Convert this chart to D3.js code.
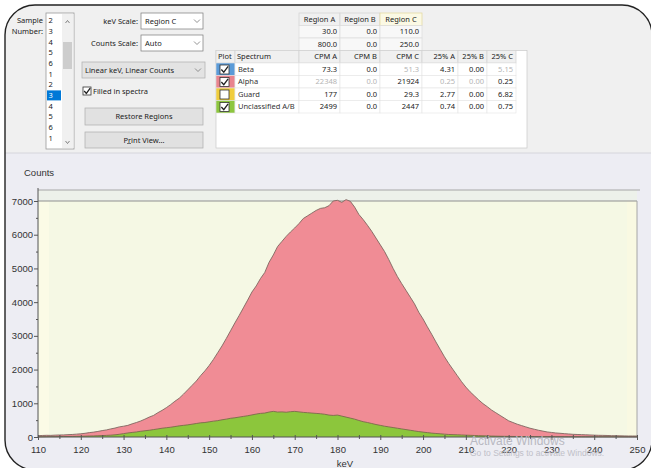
<!DOCTYPE html>
<html>
<head>
<meta charset="utf-8">
<script src="https://cdn.jsdelivr.net/npm/d3@7"></script>
<style>
  body { margin: 0; background: #fff; }
  svg { display: block; }
  .ui { font-family: "Noto Sans", "Open Sans", sans-serif; font-size: 7.5px; fill: #222; }
  .ax { font-family: "Liberation Sans", Arial, sans-serif; font-size: 9.5px; fill: #333; }
</style>
</head>
<body>
<svg id="chart" width="651" height="468"></svg>
<script>
// ---- data ----
const sampleItems = ['2', '3', '4', '5', '6', '1', '2', '3', '4', '5', '6', '1'];
const selectedSample = 7;

const regionNames = ['Region A', 'Region B', 'Region C'];
const regionLow = ['30.0', '0.0', '110.0'];
const regionHigh = ['800.0', '0.0', '250.0'];

const tableHeader = ['Plot', 'Spectrum', 'CPM A', 'CPM B', 'CPM C', '25% A', '25% B', '25% C'];
const spectra = ['Beta', 'Alpha', 'Guard', 'Unclassified A/B'];
const spectrumColors = ['#5b9bd8', '#e9848e', '#f0cd3c', '#8dc63f'];
const plotted = [true, true, false, true];
const tableValues = [
  ['73.3', '0.0', '51.3', '4.31', '0.00', '5.15'],
  ['22348', '0.0', '21924', '0.25', '0.00', '0.25'],
  ['177', '0.0', '29.3', '2.77', '0.00', '6.82'],
  ['2499', '0.0', '2447', '0.74', '0.00', '0.75']
];
const greyed = [
  [false, false, true, false, false, true],
  [true, true, false, true, true, false],
  [false, false, false, false, false, false],
  [false, false, false, false, false, false]
];

// spectrum channels, 1 keV wide, 110..250
const keV = d3.range(110, 251);
const alphaCounts = [
  40, 45, 50, 48, 55, 60, 62, 70, 75, 85,
  95, 110, 130, 145, 165, 190, 210, 240, 265, 300,
  320, 345, 390, 430, 475, 530, 590, 640, 720, 790,
  870, 960, 1060, 1150, 1270, 1400, 1530, 1660, 1820, 1960,
  2120, 2300, 2500, 2700, 2920, 3150, 3380, 3600, 3830, 4060,
  4300, 4480, 4700, 4880, 5180, 5400, 5650, 5800, 5950, 6080,
  6200, 6330, 6480, 6560, 6640, 6720, 6780, 6800, 6860, 7000,
  7020, 6960, 7040, 6990, 6820, 6600, 6450, 6280, 6100, 5900,
  5700, 5500, 5260, 5000, 4760, 4550, 4350, 4150, 3950, 3700,
  3500, 3270, 3050, 2820, 2600, 2380, 2180, 2000, 1820, 1640,
  1480, 1340, 1220, 1100, 990, 900, 800, 720, 640, 560,
  480, 430, 380, 340, 300, 260, 230, 200, 175, 150,
  135, 120, 110, 100, 90, 80, 75, 70, 65, 60,
  55, 50, 48, 45, 40, 38, 35, 33, 30, 30,
  28
];
const unclassCounts = [
  5, 5, 8, 10, 10, 12, 15, 15, 18, 20,
  22, 25, 30, 32, 38, 42, 48, 55, 65, 80,
  100, 120, 135, 150, 170, 185, 200, 220, 240, 260,
  275, 290, 310, 330, 345, 360, 380, 400, 420, 430,
  450, 470, 485, 510, 530, 555, 570, 590, 610, 630,
  655, 680, 700, 710, 740, 760, 740, 745, 735, 750,
  760, 745, 730, 720, 710, 700, 690, 675, 650, 640,
  650, 620, 590, 560, 530, 490, 455, 430, 400, 370,
  345, 320, 300, 280, 260, 240, 220, 200, 180, 160,
  145, 130, 115, 105, 95, 85, 75, 70, 65, 60,
  55, 50, 45, 40, 36, 32, 28, 25, 22, 20,
  18, 16, 15, 14, 13, 12, 11, 10, 10, 9,
  9, 8, 8, 7, 7, 6, 6, 6, 5, 5,
  5, 5, 5, 4, 4, 4, 4, 3, 3, 3,
  3
];
const xTicks = d3.range(110, 251, 10);
const yTicks = d3.range(0, 7001, 1000);

// ---- drawing ----
const svg = d3.select('#chart');

// rounded window frame
svg.append('clipPath').attr('id', 'frame')
  .append('rect').attr('x', 5).attr('y', 5).attr('width', 647).attr('height', 465).attr('rx', 30);
const win = svg.append('g').attr('clip-path', 'url(#frame)');
win.append('rect').attr('x', 0).attr('y', 0).attr('width', 651).attr('height', 153).attr('fill', '#f0f0f0');
win.append('rect').attr('x', 0).attr('y', 153).attr('width', 651).attr('height', 320).attr('fill', '#ededf3');
win.append('line').attr('x1', 0).attr('x2', 651).attr('y1', 153).attr('y2', 153).attr('stroke', '#d6d6dc');

function label (g, x, y, s, anchor, cls, color) {
  return g.append('text').attr('class', cls || 'ui').attr('x', x).attr('y', y)
    .attr('dy', '0.35em').attr('text-anchor', anchor || 'start')
    .style('fill', color || null).text(s);
}
function chevron (g, cx, cy) {
  g.append('path').attr('d', `M${cx - 3},${cy - 1.5}L${cx},${cy + 1.5}L${cx + 3},${cy - 1.5}`)
    .attr('fill', 'none').attr('stroke', '#777').attr('stroke-width', 0.8);
}
function check (g, x, y, s) {
  g.append('rect').attr('x', x).attr('y', y).attr('width', s).attr('height', s)
    .attr('fill', '#fff').attr('stroke', '#333').attr('stroke-width', 0.8);
}
function tick (g, x, y, s) {
  g.append('path').attr('d', `M${x + s * 0.15},${y + s * 0.5}L${x + s * 0.42},${y + s * 0.8}L${x + s * 0.9},${y + s * 0.15}`)
    .attr('fill', 'none').attr('stroke', '#222').attr('stroke-width', 1.3);
}

// sample number list box
const ui = win.append('g');
label(ui, 43, 20, 'Sample', 'end');
label(ui, 43, 31, 'Number:', 'end');
ui.append('rect').attr('x', 46).attr('y', 13).attr('width', 28).attr('height', 136)
  .attr('fill', '#fff').attr('stroke', '#9a9a9a').attr('stroke-width', 0.8);
ui.append('rect').attr('x', 62).attr('y', 14).attr('width', 11.5).attr('height', 134).attr('fill', '#f0f0f0');
ui.append('rect').attr('x', 63).attr('y', 42).attr('width', 9).attr('height', 27).attr('fill', '#cdcdcd');
ui.append('path').attr('d', 'M65.5,23L67.5,20.5L69.5,23').attr('fill', 'none').attr('stroke', '#666').attr('stroke-width', 0.8);
ui.append('path').attr('d', 'M65.5,141L67.5,143.5L69.5,141').attr('fill', 'none').attr('stroke', '#666').attr('stroke-width', 0.8);
sampleItems.forEach((s, i) => {
  const cy = 20.5 + i * 10.7;
  if (i === selectedSample) {
    ui.append('rect').attr('x', 47).attr('y', cy - 5).attr('width', 14).attr('height', 10).attr('fill', '#0078d7');
  }
  label(ui, 48.5, cy, s, 'start', 'ui', i === selectedSample ? '#fff' : '#222');
});

// scale dropdowns
label(ui, 138, 21, 'keV Scale:', 'end');
ui.append('rect').attr('x', 141).attr('y', 13).attr('width', 62).attr('height', 16).attr('fill', '#fff').attr('stroke', '#7a7a7a').attr('stroke-width', 0.7);
label(ui, 145, 21, 'Region C');
chevron(ui, 197, 21);
label(ui, 138, 43, 'Counts Scale:', 'end');
ui.append('rect').attr('x', 141).attr('y', 35).attr('width', 62).attr('height', 16).attr('fill', '#fff').attr('stroke', '#7a7a7a').attr('stroke-width', 0.7);
label(ui, 145, 43, 'Auto');
chevron(ui, 197, 43);

ui.append('rect').attr('x', 82).attr('y', 62).attr('width', 123).attr('height', 16).attr('fill', '#e3e3e3').attr('stroke', '#adadad').attr('stroke-width', 0.7);
label(ui, 85, 70, 'Linear keV, Linear Counts');
chevron(ui, 198, 70);

check(ui, 83, 87, 8);
tick(ui, 83, 87, 8);
label(ui, 93, 91, 'Filled in spectra');

ui.append('rect').attr('x', 85).attr('y', 108).attr('width', 118).attr('height', 17).attr('fill', '#e1e1e1').attr('stroke', '#adadad').attr('stroke-width', 0.7);
label(ui, 144, 116.5, 'Restore Regions', 'middle');
ui.append('rect').attr('x', 85).attr('y', 132).attr('width', 118).attr('height', 16).attr('fill', '#e1e1e1').attr('stroke', '#adadad').attr('stroke-width', 0.7);
label(ui, 144, 140, 'Print View...', 'middle');
ui.append('line').attr('x1', 127).attr('x2', 131).attr('y1', 143.5).attr('y2', 143.5).attr('stroke', '#222').attr('stroke-width', 0.6);

// region + spectrum tables
const colX = [216, 235, 299, 340, 380, 422, 458, 487, 516];
const rowH = 12.5;
const tb = win.append('g');
regionNames.forEach((r, i) => {
  const x0 = colX[i + 2];
  const w = colX[i + 3] - x0;
  const isC = i === 2;
  tb.append('rect').attr('x', x0).attr('y', 13).attr('width', w).attr('height', rowH)
    .attr('fill', isC ? '#fbf9e4' : '#f0f0f0').attr('stroke', isC ? '#e2d69a' : '#d2d2d2').attr('stroke-width', 0.7);
  label(tb, x0 + w / 2, 13 + rowH / 2, r, 'middle');
  [regionLow[i], regionHigh[i]].forEach((v, j) => {
    const y0 = 13 + rowH * (j + 1);
    tb.append('rect').attr('x', x0).attr('y', y0).attr('width', w).attr('height', rowH)
      .attr('fill', '#f8f8f8').attr('stroke', '#dcdcdc').attr('stroke-width', 0.7);
    label(tb, x0 + w - 3, y0 + rowH / 2, v, 'end');
  });
});

const tTop = 13 + rowH * 3;
tb.append('rect').attr('x', 216).attr('y', tTop).attr('width', 311).attr('height', 148 - tTop)
  .attr('fill', '#fff').attr('stroke', '#c9c9c9').attr('stroke-width', 0.7);
tableHeader.forEach((h, i) => {
  const x0 = colX[i];
  const w = colX[i + 1] - x0;
  tb.append('rect').attr('x', x0).attr('y', tTop).attr('width', w).attr('height', rowH)
    .attr('fill', '#f0f0f0').attr('stroke', '#d2d2d2').attr('stroke-width', 0.7);
  if (i < 2) label(tb, x0 + 2, tTop + rowH / 2, h);
  else label(tb, x0 + w - 3, tTop + rowH / 2, h, 'end');
});
spectra.forEach((s, r) => {
  const y0 = tTop + rowH * (r + 1);
  colX.slice(0, -1).forEach((x0, i) => {
    tb.append('rect').attr('x', x0).attr('y', y0).attr('width', colX[i + 1] - x0).attr('height', rowH)
      .attr('fill', i === 0 ? spectrumColors[r] : '#fff').attr('stroke', '#e4e4e4').attr('stroke-width', 0.6);
  });
  check(tb, 220, y0 + 2, 9);
  if (plotted[r]) tick(tb, 220, y0 + 2, 9);
  label(tb, 238, y0 + rowH / 2, s, 'start', 'ui', '#333');
  tableValues[r].forEach((v, i) => {
    label(tb, colX[i + 3] - 3, y0 + rowH / 2, v, 'end', 'ui', greyed[r][i] ? '#b4b4b4' : '#222');
  });
});

// ---- spectrum plot ----
const x = d3.scaleLinear().domain([110, 250]).range([38, 637]);
const y = d3.scaleLinear().domain([0, 7000]).range([437, 201]);
const plot = win.append('g');

plot.append('rect').attr('x', 38).attr('y', 190).attr('width', 599).attr('height', 11).attr('fill', '#edf1ea');
plot.append('rect').attr('x', 38).attr('y', 201).attr('width', 599).attr('height', 236).attr('fill', '#f5f8e4');
plot.append('rect').attr('x', 39).attr('y', 201).attr('width', 10).attr('height', 236).attr('fill', '#fbfbe6');
plot.append('rect').attr('x', 627).attr('y', 201).attr('width', 10).attr('height', 236).attr('fill', '#f9f9e2');
plot.append('line').attr('x1', 38).attr('x2', 640).attr('y1', 190).attr('y2', 190).attr('stroke', '#a6a6a6');
plot.append('line').attr('x1', 38).attr('x2', 637).attr('y1', 201).attr('y2', 201).attr('stroke', '#8f8f8f');
plot.append('line').attr('x1', 637).attr('x2', 637).attr('y1', 201).attr('y2', 437).attr('stroke', '#a6a6a6');

label(plot, 24, 173, 'Counts', 'start', 'ax');

const area = d3.area().x((d, i) => x(keV[i])).y0(y(0)).y1(d => y(d));
const line = d3.line().x((d, i) => x(keV[i])).y(d => y(d));
plot.append('path').datum(alphaCounts).attr('d', area).attr('fill', '#f08c95');
plot.append('path').datum(alphaCounts).attr('d', line).attr('fill', 'none').attr('stroke', '#7f6660').attr('stroke-width', 0.9);
plot.append('path').datum(unclassCounts).attr('d', area).attr('fill', '#8cc63c');
plot.append('path').datum(unclassCounts).attr('d', line).attr('fill', 'none').attr('stroke', '#7c6a4c').attr('stroke-width', 0.9);

// axes
const yAxis = plot.append('g').attr('transform', 'translate(38,0)')
  .call(d3.axisLeft(y).tickValues(yTicks).tickFormat(d3.format('d')).tickSize(4).tickPadding(1));
plot.append('g').attr('transform', 'translate(38,0)')
  .call(d3.axisLeft(y).tickValues(d3.range(500, 7000, 1000)).tickFormat('').tickSize(2))
  .call(g => g.select('.domain').remove());
yAxis.select('.domain').attr('d', 'M0,188V437');

const xAxis = plot.append('g').attr('transform', 'translate(0,437)')
  .call(d3.axisBottom(x).tickValues(xTicks).tickFormat(d3.format('d')).tickSize(3).tickPadding(6));
plot.append('g').attr('transform', 'translate(0,437)')
  .call(d3.axisBottom(x).tickValues(d3.range(115, 250, 10)).tickFormat('').tickSize(2))
  .call(g => g.select('.domain').remove());
xAxis.select('.domain').attr('d', 'M38,0H637');
plot.selectAll('.tick line').attr('y1', function () { return this.getAttribute('y2') ? -2 : null; });
plot.selectAll('.domain, .tick line').attr('stroke', '#555');
plot.selectAll('.tick text').attr('class', 'ax').attr('font-family', null).attr('font-size', null);

label(plot, 345, 464, 'keV', 'middle', 'ax');

// windows watermark
label(win, 470, 441, 'Activate Windows', 'start', 'ax', '#b9b9c2').style('font-size', '12px');
label(win, 470, 453, 'Go to Settings to activate Windows.', 'start', 'ax', '#c0c0c8').style('font-size', '8.5px');

// frame outline
svg.append('rect').attr('x', 5).attr('y', 5).attr('width', 647).attr('height', 465).attr('rx', 30)
  .attr('fill', 'none').attr('stroke', '#222').attr('stroke-width', 1.4);
</script>
</body>
</html>
